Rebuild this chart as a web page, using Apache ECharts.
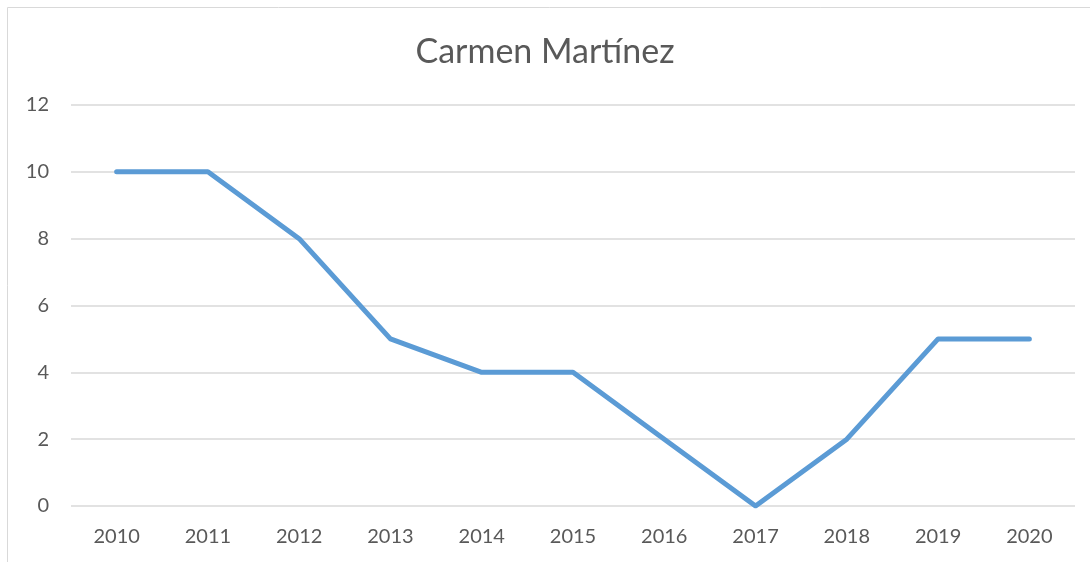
<!DOCTYPE html>
<html>
<head>
<meta charset="utf-8">
<script src="https://cdn.jsdelivr.net/npm/echarts@6/dist/echarts.min.js"></script>
<style>
  html, body { margin: 0; padding: 0; background: #fff; }
  #chart { width: 1090px; height: 562px; }
</style>
</head>
<body>
<div id="chart"></div>
<script>
var years = ['2010', '2011', '2012', '2013', '2014', '2015', '2016', '2017', '2018', '2019', '2020'];
var values = [10, 10, 8, 5, 4, 4, 2, 0, 2, 5, 5];
var yTicks = { min: 0, max: 12, interval: 2 };

var textColor = '#595959',
    font = 'Lato, "Open Sans", sans-serif';

var chart = echarts.init(document.getElementById('chart'));

chart.setOption({
    animation: false,
    textStyle: { fontFamily: font },
    graphic: [{
        type: 'rect',
        shape: { x: 7.5, y: 7.5, width: 1100, height: 600 },
        style: { fill: 'none', stroke: '#d9d9d9', lineWidth: 1 },
        silent: true
    }],
    title: {
        text: 'Carmen Martínez',
        left: 'center',
        top: 30,
        textStyle: { color: textColor, fontSize: 34, fontWeight: 'normal', fontFamily: font }
    },
    grid: { left: 71, right: 15, top: 105, bottom: 56 },
    xAxis: {
        type: 'category',
        data: years,
        boundaryGap: true,
        axisLine: { show: false },
        axisTick: { show: false },
        axisLabel: { color: textColor, fontSize: 20, margin: 21, fontFamily: font }
    },
    yAxis: {
        type: 'value',
        min: yTicks.min,
        max: yTicks.max,
        interval: yTicks.interval,
        axisLine: { show: false },
        axisTick: { show: false },
        axisLabel: { color: textColor, fontSize: 20, margin: 22, fontFamily: font },
        splitLine: { lineStyle: { color: '#d9d9d9', width: 1.5 } }
    },
    series: [{
        type: 'line',
        data: values,
        symbol: 'none',
        lineStyle: { color: '#5b9bd5', width: 5, cap: 'round', join: 'round' }
    }]
});
</script>
</body>
</html>
